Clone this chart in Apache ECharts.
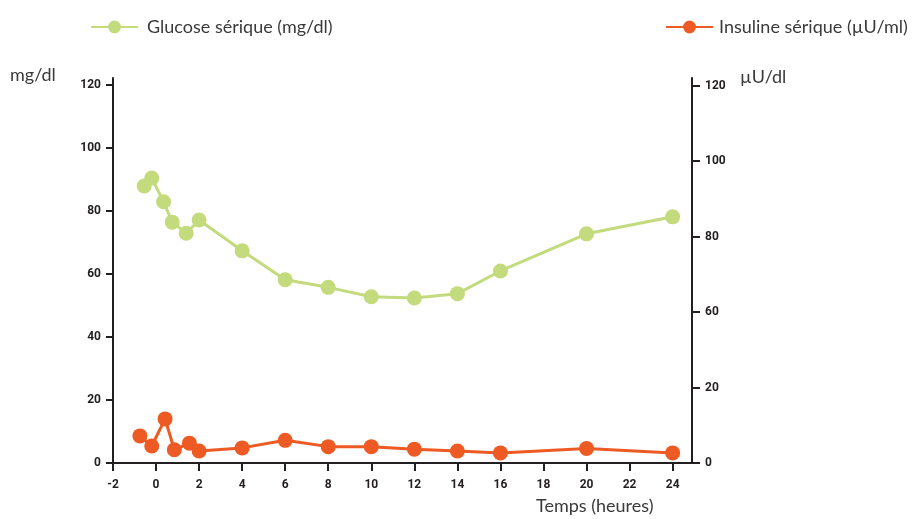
<!DOCTYPE html>
<html>
<head>
<meta charset="utf-8">
<script src="https://cdn.jsdelivr.net/npm/echarts@6/dist/echarts.min.js"></script>
<style>
  html, body { margin: 0; padding: 0; background: #fff; }
  #main { width: 915px; height: 519px; }
</style>
</head>
<body>
<div id="main"></div>
<script>
// data
let glucoseTimes = [-0.55, -0.2, 0.35, 0.75, 1.4, 2, 4, 6, 8, 10, 12, 14, 16, 20, 24];
let glucoseValues = [88, 90.5, 83, 76.5, 73, 77.2, 67.4, 58.2, 55.8, 52.8, 52.4, 53.8, 61, 72.8, 78.2];
let insulinTimes = [-0.75, -0.2, 0.42, 0.85, 1.55, 2, 4, 6, 8, 10, 12, 14, 16, 20, 24];
let insulinValues = [8.6, 5.4, 14, 4.2, 6.3, 3.8, 4.8, 7.2, 5.2, 5.2, 4.4, 3.8, 3.2, 4.6, 3.2];
let xTicks = [-2, 0, 2, 4, 6, 8, 10, 12, 14, 16, 18, 20, 22, 24];
let leftTicks = [0, 20, 40, 60, 80, 100, 120];
let rightTickLabels = ["0", "20", "60", "80", "100", "120"];
let rightTicks = [0, 1, 2, 3, 4, 5];

let glucoseName = "Glucose sérique (mg/dl)";
let insulinName = "Insuline sérique (µU/ml)";

let green = "#c3da7d";
let orange = "#ee5a24";
let axisColor = "#231f20";
let textColor = "#3a3a3a";
let tickFont = "Roboto, sans-serif";
let textFont = "Lato, sans-serif";

let dom = document.getElementById("main");
let myChart = echarts.init(dom, null, { renderer: "canvas" });

function pairs(xs, ys) {
    return xs.map(function (x, i) { return [x, ys[i]]; });
}

let option = {
    animation: false,
    grid: { left: 113, right: 223, top: 78, bottom: 56 },
    legend: [
        {
            data: [glucoseName],
            left: 85, top: 13,
            itemWidth: 47, itemHeight: 16,
            textStyle: { fontFamily: textFont, fontSize: 18, color: textColor, padding: [0, 0, 0, 4] }
        },
        {
            data: [insulinName],
            left: 660, top: 13,
            itemWidth: 47, itemHeight: 16,
            textStyle: { fontFamily: textFont, fontSize: 18, color: textColor, padding: [0, 0, 0, 1] }
        }
    ],
    graphic: [
        { type: "text", left: 10, top: 66, style: { text: "mg/dl", font: "18px " + textFont, fill: textColor } },
        { type: "text", left: 740, top: 68, style: { text: "µU/dl", font: "18px " + textFont, fill: textColor } },
        { type: "text", left: 536, top: 497, style: { text: "Temps (heures)", font: "18px " + textFont, fill: textColor } }
    ],
    xAxis: {
        type: "value",
        min: -2, max: 24.9,
        splitLine: { show: false },
        axisLine: { onZero: false, lineStyle: { color: axisColor, width: 2 } },
        axisTick: { customValues: xTicks, length: 8, lineStyle: { color: axisColor, width: 2 } },
        axisLabel: {
            customValues: xTicks, margin: 16,
            fontFamily: tickFont, fontWeight: "bold", fontSize: 12, color: axisColor
        }
    },
    yAxis: [
        {
            type: "value",
            min: 0, max: 122.3,
            splitLine: { show: false },
            axisLine: { show: true, onZero: false, lineStyle: { color: axisColor, width: 2 } },
            axisTick: { show: true, customValues: leftTicks, length: 7, lineStyle: { color: axisColor, width: 2 } },
            axisLabel: {
                customValues: leftTicks, margin: 12,
                fontFamily: tickFont, fontWeight: "bold", fontSize: 12, color: axisColor
            }
        },
        {
            type: "value",
            position: "right",
            min: 0, max: 5.1,
            splitLine: { show: false },
            axisLine: { show: true, onZero: false, lineStyle: { color: axisColor, width: 2 } },
            axisTick: { show: true, customValues: rightTicks, length: 8, lineStyle: { color: axisColor, width: 2 } },
            axisLabel: {
                customValues: rightTicks, margin: 13,
                fontFamily: tickFont, fontWeight: "bold", fontSize: 12, color: axisColor,
                formatter: function (v) { return rightTickLabels[Math.round(v)]; }
            }
        }
    ],
    series: [
        {
            name: glucoseName,
            type: "line",
            yAxisIndex: 0,
            data: pairs(glucoseTimes, glucoseValues),
            symbol: "circle", symbolSize: 15,
            itemStyle: { color: green },
            lineStyle: { color: green, width: 3 },
            clip: false
        },
        {
            name: insulinName,
            type: "line",
            yAxisIndex: 0,
            data: pairs(insulinTimes, insulinValues),
            symbol: "circle", symbolSize: 15,
            itemStyle: { color: orange },
            lineStyle: { color: orange, width: 3 },
            clip: false
        }
    ]
};

myChart.setOption(option);
window.addEventListener("resize", myChart.resize);
</script>
</body>
</html>
